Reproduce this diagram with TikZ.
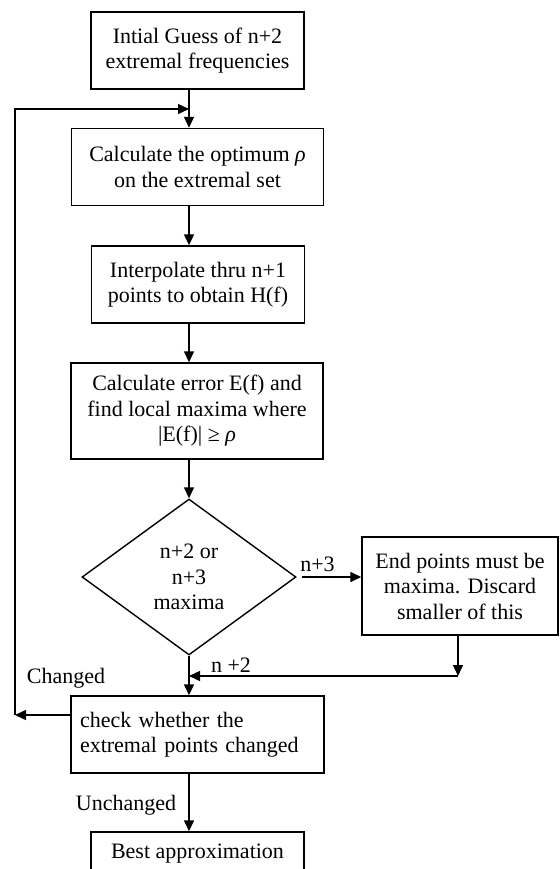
\documentclass[tikz,border=0pt]{standalone}
\usepackage{fontspec}
\setmainfont{Liberation Serif}
\usetikzlibrary{shapes.geometric,arrows.meta}
\begin{document}
\begin{tikzpicture}[x=1pt,y=-1pt,
  font=\fontsize{22}{25.5}\selectfont,
  lw/.style={line width=1.4pt},
  boxA/.style={draw, lw, align=center, inner sep=0pt, minimum width=213pt, minimum height=77pt},
  boxB/.style={draw, lw, align=center, inner sep=0pt, minimum width=252pt, minimum height=77pt},
  decision/.style={draw, lw, diamond, align=center, inner sep=0pt, minimum width=214pt, minimum height=156pt},
  arr/.style={lw, -{Triangle[length=11pt,width=10pt]}},
  lbl/.style={inner sep=0pt, anchor=base}
]
\useasboundingbox (0,0) rectangle (559,869);
\clip (0,0) rectangle (559,869);
\fill[white] (0,0) rectangle (559,869);

% nodes
\node[boxA] (b1) at (197.5,50.5) {Intial Guess of n+2\\extremal frequencies};
\node[boxB] (b2) at (197.5,167) {Calculate the optimum \textit{ρ}\\on the extremal set};
\node[boxA] (b3) at (198,284.5) {Interpolate thru n+1\\points to obtain H(f)};
\node[boxB, minimum height=96pt] (b4) at (197,411) {Calculate error E(f) and\\find local maxima where\\|E(f)| ≥ \textit{ρ}};
\node[decision] (d) at (189,577) {n+2 or\\n+3\\maxima};
\node[draw, lw, align=center, inner sep=0pt, minimum width=196pt, minimum height=98pt] (rb) at (460,586) {End points must be\\maxima. Discard\\smaller of this};
\node[boxB, align=left, text width=235pt, inner xsep=9pt, minimum width=253pt] (b6) at (197.5,734.5) {check whether the\\extremal points changed};
\node[boxA, minimum height=44pt] (b7) at (197.5,854) {Best approximation};

% labels
\node[lbl] (l3) at (317.5,571) {n+3};
\node[lbl] (l2) at (231,672) {n +2};
\node[lbl] (lc) at (66,683) {Changed};
\node[lbl] (lu) at (126,810) {Unchanged};

% helper coordinates
\coordinate (ax) at (189,0);
\coordinate (Ltop) at (15,109);
\coordinate (Ljoin) at (189,109);
\coordinate (Lbot) at (15,715);
\coordinate (R) at (458,676);

% connectors
\draw[arr] (b1.south -| ax) -- (b2.north -| ax);
\draw[arr] (b2.south -| ax) -- (b3.north -| ax);
\draw[arr] (b3.south -| ax) -- (b4.north -| ax);
\draw[arr] (b4.south -| ax) -- (d.north);
\draw[arr, shorten <=5pt] (d.east) -- (rb.west |- d.east);
\draw[arr] (d.south) -- (b6.north -| ax);
\draw[arr] (rb.south -| R) -- (R);
\draw[arr] (R) -- (R -| ax);
\draw[arr] (b6.west |- Lbot) -- (Lbot);
\draw[arr] (Lbot) -- (Ltop) -- (Ljoin);
\draw[arr] (b6.south -| ax) -- (b7.north -| ax);
\end{tikzpicture}
\end{document}
